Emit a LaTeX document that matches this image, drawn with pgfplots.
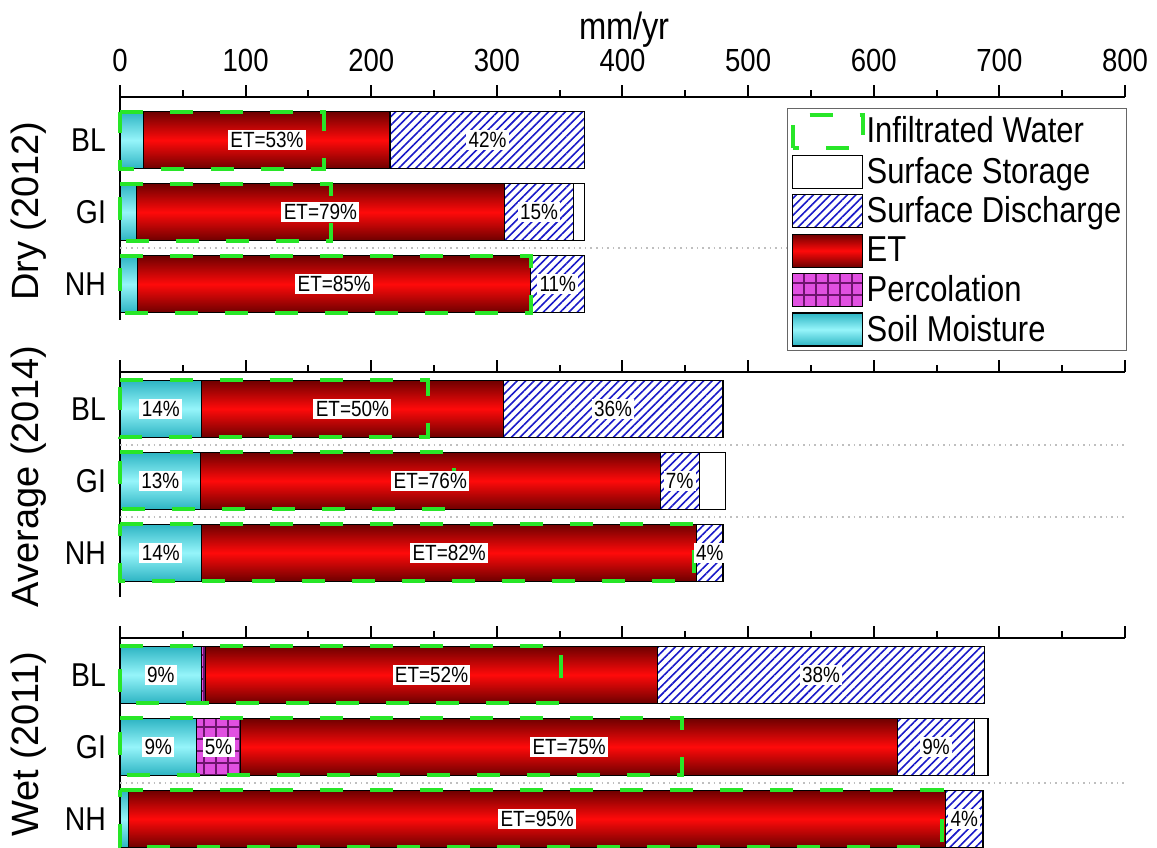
\documentclass[border=0pt]{standalone}
\usepackage{pgfplots}
\pgfplotsset{compat=1.18}
\usetikzlibrary{patterns,patterns.meta}
\usepackage{fontspec}
\setmainfont{Liberation Sans}[FakeStretch=0.86]
\newfontfamily\rotfont{Liberation Sans}

\definecolor{igreen}{RGB}{40,230,40}
\definecolor{etdark}{RGB}{110,0,0}
\definecolor{etmid}{RGB}{255,10,10}
\definecolor{smdark}{RGB}{45,180,195}
\definecolor{smmid}{RGB}{150,245,250}
\definecolor{percol}{RGB}{225,80,225}
\definecolor{percline}{RGB}{110,20,110}
\definecolor{hatchblue}{RGB}{25,25,200}

\tikzset{
  lab/.style={fill=white, inner sep=1.2pt, font=\fontsize{11}{11}\selectfont},
  dotgrid/.style={draw=black!25, dotted, line width=0.8pt},
}
\pgfplotsset{
  myleg/.style={legend image code/.code={\draw[##1] (0pt,-8.25pt) rectangle (35pt,8.25pt);}},
  b/.style={forget plot, xbar, bar width=0.79, bar shift=0pt},
  smstyle/.style={draw=black, line width=0.6pt, top color=smdark, bottom color=smdark, middle color=smmid},
  percstyle/.style={draw=black, line width=0.6pt, fill=percol, postaction={pattern color=percline, pattern={Hatch[angle=0,distance=6pt,line width=0.6pt]}}},
  etstyle/.style={draw=black, line width=0.6pt, top color=etdark, bottom color=etdark, middle color=etmid},
  dischstyle/.style={draw=black, line width=0.6pt, fill=white, postaction={pattern color=hatchblue, pattern={Lines[angle=45,distance=3pt,line width=0.8pt]}}},
  storstyle/.style={draw=black, line width=0.6pt, fill=white},
  infstyle/.style={draw=igreen, line width=2pt, dash pattern=on 11.5pt off 13.5pt, fill=none},
  panel/.style={
    scale only axis, width=502.5pt,
    xmin=0, xmax=800,
    y dir=reverse, clip=false,
    axis x line*=top, axis y line*=left,
    axis line style={-, line width=1pt},
    xtick={0,100,...,800}, minor xtick={50,150,...,750},
    tick align=outside, major tick length=6pt, minor tick length=3.5pt,
    x tick style={black, line width=1pt},
    ytick={0,1,2}, yticklabels={BL,GI,NH},
    y tick style={draw=none},
    /pgf/number format/assume math mode=true,
    xticklabel style={font=\fontsize{16}{16}\selectfont, yshift=3pt},
    yticklabel style={font=\fontsize{16.5}{16.5}\selectfont, xshift=2.5pt},
    ylabel style={anchor=center, font=\rotfont\fontsize{19}{19}\selectfont},
  },
}

\begin{document}
\begin{tikzpicture}
\path[use as bounding box] (-60pt,48.5pt) rectangle (518.5pt,-375pt);

% ---------------- Panel 1: Dry (2012)   (cumulative bar ends, mm/yr)
\begin{axis}[panel, at={(0pt,0pt)}, anchor=north west,
  ymin=-0.6, ymax=2.5, height=111.6pt,
  ylabel={Dry (2012)}, ylabel style={at={(axis description cs:-0.0905,0.489)}},
  xlabel={mm/yr}, xlabel style={at={(axis description cs:0.502,1)}, anchor=base, yshift=29pt, font=\fontsize{19}{19}\selectfont},
  legend cell align=left,
  legend style={at={(axis description cs:0.6637,0.9507)}, anchor=north west,
    draw=black!60, line width=0.6pt, fill=white, font=\fontsize{18}{18}\selectfont,
    nodes={inner sep=1pt}, row sep=2.6pt, inner xsep=1.5pt, inner ysep=2pt},
]
\draw[dotgrid] (axis cs:0,1.5) -- (axis cs:800,1.5);
% surface storage (total)
\addplot[b, storstyle] coordinates {(370,0) (370,1) (370,2)};
% surface discharge
\addplot[b, dischstyle] coordinates {(370,0) (361,1) (370,2)};
% ET
\addplot[b, etstyle] coordinates {(215,0)};
\addplot[b, etstyle] coordinates {(306,1)};
\addplot[b, etstyle] coordinates {(327,2)};
% soil moisture
\addplot[b, smstyle] coordinates {(19,0)};
\addplot[b, smstyle] coordinates {(13,1)};
\addplot[b, smstyle] coordinates {(14,2)};
% infiltrated water
\addplot[b, infstyle] coordinates {(162,0) (168,1) (327,2)};
\node[lab] at (axis cs:117,0) {ET=53\%};
\node[lab] at (axis cs:292.5,0) {42\%};
\node[lab] at (axis cs:159.5,1) {ET=79\%};
\node[lab] at (axis cs:333.5,1) {15\%};
\node[lab] at (axis cs:170.5,2) {ET=85\%};
\node[lab] at (axis cs:348.5,2) {11\%};
\addlegendimage{myleg, infstyle}
\addlegendentry{Infiltrated Water}
\addlegendimage{myleg, storstyle}
\addlegendentry{Surface Storage}
\addlegendimage{myleg, dischstyle}
\addlegendentry{Surface Discharge}
\addlegendimage{myleg, etstyle}
\addlegendentry{ET}
\addlegendimage{myleg, percstyle}
\addlegendentry{Percolation}
\addlegendimage{myleg, smstyle}
\addlegendentry{Soil Moisture}
\end{axis}

% ---------------- Panel 2: Average (2014)
\begin{axis}[panel, at={(0pt,-137.5pt)}, anchor=north west,
  ymin=-0.51, ymax=2.62, height=112.7pt, xticklabels={},
  ylabel={Average (2014)}, ylabel style={at={(axis description cs:-0.0905,0.536)}},
]
\draw[dotgrid] (axis cs:0,0.5) -- (axis cs:800,0.5);
\draw[dotgrid] (axis cs:0,1.5) -- (axis cs:800,1.5);
\addplot[b, storstyle] coordinates {(480,0) (482,1) (480,2)};
\addplot[b, dischstyle] coordinates {(480,0) (461,1) (480,2)};
\addplot[b, etstyle] coordinates {(305,0)};
\addplot[b, etstyle] coordinates {(430,1)};
\addplot[b, etstyle] coordinates {(459,2)};
\addplot[b, smstyle] coordinates {(65,0)};
\addplot[b, smstyle] coordinates {(64,1)};
\addplot[b, smstyle] coordinates {(65,2)};
\addplot[b, infstyle] coordinates {(245,0) (266,1) (457,2)};
\node[lab] at (axis cs:32.5,0) {14\%};
\node[lab] at (axis cs:185,0) {ET=50\%};
\node[lab] at (axis cs:392.5,0) {36\%};
\node[lab] at (axis cs:32,1) {13\%};
\node[lab] at (axis cs:247,1) {ET=76\%};
\node[lab] at (axis cs:445.5,1) {7\%};
\node[lab] at (axis cs:32.5,2) {14\%};
\node[lab] at (axis cs:262,2) {ET=82\%};
\node[lab] at (axis cs:469.5,2) {4\%};
\end{axis}

% ---------------- Panel 3: Wet (2011)
\begin{axis}[panel, at={(0pt,-270.5pt)}, anchor=north west,
  ymin=-0.51, ymax=2.4, height=104.8pt, xticklabels={},
  ylabel={Wet (2011)}, ylabel style={at={(axis description cs:-0.0905,0.493)}},
]
\draw[dotgrid] (axis cs:0,1.5) -- (axis cs:800,1.5);
\addplot[b, storstyle] coordinates {(688,0) (691,1) (687,2)};
\addplot[b, dischstyle] coordinates {(688,0) (680,1) (687,2)};
\addplot[b, etstyle] coordinates {(428,0)};
\addplot[b, etstyle] coordinates {(619,1)};
\addplot[b, etstyle] coordinates {(657,2)};
\addplot[b, percstyle] coordinates {(68,0) (96,1)};
\addplot[b, smstyle] coordinates {(65,0)};
\addplot[b, smstyle] coordinates {(61,1)};
\addplot[b, smstyle] coordinates {(7,2)};
\addplot[b, infstyle] coordinates {(351,0) (447,1) (654,2)};
\node[lab] at (axis cs:32.5,0) {9\%};
\node[lab] at (axis cs:248,0) {ET=52\%};
\node[lab] at (axis cs:558,0) {38\%};
\node[lab] at (axis cs:30.5,1) {9\%};
\node[lab] at (axis cs:78.5,1) {5\%};
\node[lab] at (axis cs:357.5,1) {ET=75\%};
\node[lab] at (axis cs:649.5,1) {9\%};
\node[lab] at (axis cs:332,2) {ET=95\%};
\node[lab] at (axis cs:672,2) {4\%};
\end{axis}
\end{tikzpicture}
\end{document}
